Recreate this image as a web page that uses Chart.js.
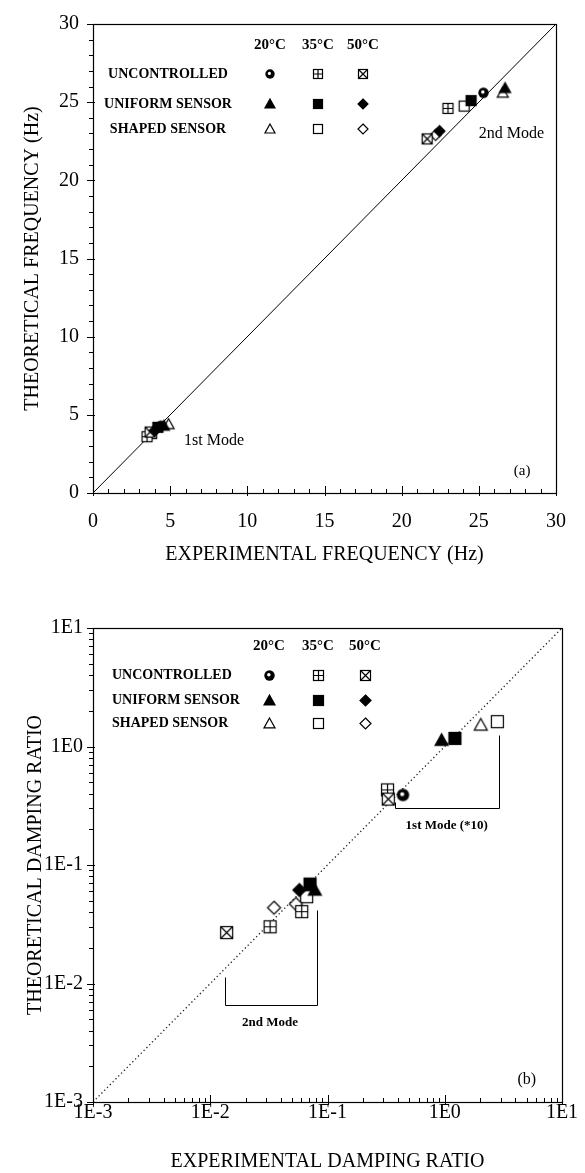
<!DOCTYPE html>
<html><head><meta charset="utf-8">
<script src="https://cdn.jsdelivr.net/npm/chart.js@4.4.0/dist/chart.umd.min.js"></script>
<style>
html,body{margin:0;padding:0;background:#fff;width:585px;height:1173px;overflow:hidden}
#c1{position:absolute;left:0;top:0}
#c2{position:absolute;left:0;top:585px}
</style></head><body>
<canvas id="c1" width="585" height="585" style="width:585px;height:585px"></canvas>
<canvas id="c2" width="585" height="588" style="width:585px;height:588px"></canvas>
<script>
// ---------------- DATA ----------------
const conditions = ['UNCONTROLLED', 'UNIFORM SENSOR', 'SHAPED SENSOR'];
const temperatures = ['20°C', '35°C', '50°C'];

// (a) frequencies, Hz : [1st mode, 2nd mode]
const freqTicks = [0, 5, 10, 15, 20, 25, 30];
const freqIdentity = [0, 30];
const unc20FreqX = [4.4, 25.3],  unc20FreqY = [4.3, 25.6];
const unc35FreqX = [3.5, 23.0],  unc35FreqY = [3.6, 24.6];
const unc50FreqX = [3.7, 21.65], unc50FreqY = [3.9, 22.65];
const uni20FreqX = [4.6, 26.7],  uni20FreqY = [4.3, 25.9];
const uni35FreqX = [4.2, 24.5],  uni35FreqY = [4.2, 25.1];
const uni50FreqX = [4.0, 22.45], uni50FreqY = [4.0, 23.15];
const sha20FreqX = [4.9, 26.55], sha20FreqY = [4.4, 25.6];
const sha35FreqX = [3.8, 24.05], sha35FreqY = [3.8, 24.75];
const sha50FreqX = [4.1, 22.2],  sha50FreqY = [4.1, 22.9];

// (b) damping ratios (1st mode values x10)
const dampTicks = [0.001, 0.01, 0.1, 1, 10];
const dampTickLabels = ['1E-3', '1E-2', '1E-1', '1E0', '1E1'];
const dampIdentity = [0.001, 10];
const unc20DampX = [0.44],                 unc20DampY = [0.39];
const unc35DampX = [0.325, 0.0324, 0.0603], unc35DampY = [0.43, 0.0301, 0.0404];
const unc50DampX = [0.33, 0.0138],         unc50DampY = [0.36, 0.0269];
const uni20DampX = [0.94, 0.078],          uni20DampY = [1.13, 0.0615];
const uni35DampX = [1.22, 0.071],          uni35DampY = [1.17, 0.069];
const uni50DampX = [0.0575],               uni50DampY = [0.0615];
const sha20DampX = [2.03],                 sha20DampY = [1.52];
const sha35DampX = [2.81, 0.0664],         sha35DampY = [1.62, 0.054];
const sha50DampX = [0.035, 0.0538],        sha50DampY = [0.0436, 0.0469];

// ---------------- STYLE ----------------
const SERIF = '"Liberation Serif", "Times New Roman", serif';
const kinds = ['ring', 'boxPlus', 'boxCross', 'triFill', 'sqFill', 'diaFill', 'triOpen', 'sqOpen', 'diaOpen'];

function marker(kind, size) {
  const s = size + 4;
  const c = document.createElement('canvas');
  c.width = s; c.height = s;
  const g = c.getContext('2d');
  const m = s / 2, h = size / 2;
  g.strokeStyle = '#000'; g.fillStyle = '#000'; g.lineWidth = 1.2; g.lineJoin = 'miter';
  const bx = 2.5, bw = size - 1;
  switch (kind) {
    case 'ring':
      g.beginPath(); g.arc(m, m, h - 0.3, 0, Math.PI * 2); g.fill();
      g.fillStyle = '#fff'; g.beginPath(); g.arc(m - h * 0.12, m - h * 0.12, h * 0.32, 0, Math.PI * 2); g.fill();
      break;
    case 'boxPlus':
      g.fillStyle = '#fff'; g.fillRect(bx, bx, bw, bw); g.strokeRect(bx, bx, bw, bw);
      g.beginPath(); g.moveTo(m, bx); g.lineTo(m, bx + bw); g.moveTo(bx, m); g.lineTo(bx + bw, m); g.stroke();
      break;
    case 'boxCross':
      g.fillStyle = '#fff'; g.fillRect(bx, bx, bw, bw); g.strokeRect(bx, bx, bw, bw);
      g.beginPath(); g.moveTo(bx, bx); g.lineTo(bx + bw, bx + bw); g.moveTo(bx + bw, bx); g.lineTo(bx, bx + bw); g.stroke();
      break;
    case 'triFill': case 'triOpen':
      g.beginPath(); g.moveTo(m, m - h); g.lineTo(m + h, m + h * 0.8); g.lineTo(m - h, m + h * 0.8); g.closePath();
      if (kind === 'triFill') g.fill(); else { g.fillStyle = '#fff'; g.fill(); }
      g.stroke();
      break;
    case 'sqFill': case 'sqOpen':
      if (kind === 'sqFill') g.fillRect(bx, bx, bw, bw); else { g.fillStyle = '#fff'; g.fillRect(bx, bx, bw, bw); }
      g.strokeRect(bx, bx, bw, bw);
      break;
    case 'diaFill': case 'diaOpen':
      g.beginPath(); g.moveTo(m, m - h); g.lineTo(m + h, m); g.lineTo(m, m + h); g.lineTo(m - h, m); g.closePath();
      if (kind === 'diaFill') g.fill(); else { g.fillStyle = '#fff'; g.fill(); }
      g.stroke();
      break;
  }
  return c;
}

const pts = (xs, ys) => xs.map((x, i) => ({ x, y: ys[i] }));

const freqXY = [[unc20FreqX, unc20FreqY], [unc35FreqX, unc35FreqY], [unc50FreqX, unc50FreqY],
                [uni20FreqX, uni20FreqY], [uni35FreqX, uni35FreqY], [uni50FreqX, uni50FreqY],
                [sha20FreqX, sha20FreqY], [sha35FreqX, sha35FreqY], [sha50FreqX, sha50FreqY]];
const dampXY = [[unc20DampX, unc20DampY], [unc35DampX, unc35DampY], [unc50DampX, unc50DampY],
                [uni20DampX, uni20DampY], [uni35DampX, uni35DampY], [uni50DampX, uni50DampY],
                [sha20DampX, sha20DampY], [sha35DampX, sha35DampY], [sha50DampX, sha50DampY]];
// draw order: shaped at bottom, uniform on top
const drawOrder = [5, 5, 5, 1, 1, 1, 9, 9, 9];

function markerDatasets(xy, size) {
  return xy.map((s, i) => ({
    label: conditions[Math.floor(i / 3)] + ' ' + temperatures[i % 3],
    data: pts(s[0], s[1]),
    pointStyle: marker(kinds[i], size),
    pointRadius: size / 2, showLine: false, order: drawOrder[i] + (8 - i) * 0.01, clip: false
  }));
}

function legendPlugin(cfg) {
  return {
    id: 'gridLegend' + cfg.id,
    afterDraw(chart) {
      const ctx = chart.ctx;
      ctx.save();
      ctx.fillStyle = '#000';
      ctx.textBaseline = 'middle';
      ctx.font = 'bold 15px ' + SERIF;
      ctx.textAlign = 'center';
      temperatures.forEach((t, j) => ctx.fillText(t, cfg.colX[j], cfg.headY));
      ctx.font = 'bold 14px ' + SERIF;
      ctx.textAlign = cfg.textAlign;
      conditions.forEach((c, i) => {
        ctx.fillText(c, cfg.textX, cfg.rowY[i]);
        for (let j = 0; j < 3; j++) {
          const img = marker(kinds[i * 3 + j], cfg.size);
          ctx.drawImage(img, Math.round(cfg.colX[j] - img.width / 2), Math.round(cfg.rowY[i] - img.height / 2));
        }
      });
      ctx.restore();
    }
  };
}

function frameTicksPlugin(cfg) {
  return {
    id: 'frameTicks' + cfg.id,
    afterDraw(chart) {
      const { ctx, chartArea: a } = chart;
      const xs = chart.scales.x, ys = chart.scales.y;
      ctx.save();
      ctx.strokeStyle = '#000';
      ctx.lineWidth = 1.2;
      ctx.strokeRect(Math.round(a.left) + 0.5, Math.round(a.top) + 0.5, Math.round(a.right - a.left), Math.round(a.bottom - a.top));
      ctx.lineWidth = 1;
      ctx.beginPath();
      cfg.xMajor.forEach(v => { const p = Math.round(xs.getPixelForValue(v)) + 0.5; ctx.moveTo(p, a.bottom + 3); ctx.lineTo(p, a.bottom - 7); });
      cfg.xMinor.forEach(v => { const p = Math.round(xs.getPixelForValue(v)) + 0.5; ctx.moveTo(p, a.bottom); ctx.lineTo(p, a.bottom - 4); });
      cfg.yMajor.forEach(v => { const p = Math.round(ys.getPixelForValue(v)) + 0.5; ctx.moveTo(a.left - 6, p); ctx.lineTo(a.left + 2, p); });
      cfg.yMinor.forEach(v => { const p = Math.round(ys.getPixelForValue(v)) + 0.5; ctx.moveTo(a.left - 4, p); ctx.lineTo(a.left, p); });
      ctx.stroke();
      ctx.restore();
    }
  };
}

const intMinor = [];
for (let v = 0; v <= 30; v++) if (v % 5) intMinor.push(v);
const logMinor = [];
for (let e = -3; e < 1; e++) for (let k = 2; k <= 9; k++) logMinor.push(k * Math.pow(10, e));

const common = {
  responsive: false, animation: false, devicePixelRatio: 1, events: [],
  plugins: { legend: { display: false }, tooltip: { enabled: false } }
};

// ---------------- CHART (a) ----------------
const annotTop = {
  id: 'annotTop',
  afterDraw(chart) {
    const { ctx } = chart; const xs = chart.scales.x, ys = chart.scales.y;
    ctx.save(); ctx.fillStyle = '#000'; ctx.textBaseline = 'middle'; ctx.textAlign = 'left';
    ctx.font = '16px ' + SERIF;
    ctx.fillText('1st Mode', xs.getPixelForValue(5.9), ys.getPixelForValue(3.35));
    ctx.fillText('2nd Mode', xs.getPixelForValue(25.0), ys.getPixelForValue(23.0));
    ctx.font = '15px ' + SERIF; ctx.textAlign = 'center';
    ctx.fillText('(a)', xs.getPixelForValue(27.8), ys.getPixelForValue(1.4));
    ctx.restore();
  }
};

new Chart(document.getElementById('c1'), {
  type: 'scatter',
  data: {
    datasets: [
      ...markerDatasets(freqXY, 11),
      { label: 'identity', data: pts(freqIdentity, freqIdentity), showLine: true, borderColor: '#000', borderWidth: 1, pointRadius: 0, order: 100 }
    ]
  },
  options: {
    ...common,
    layout: { padding: { top: 19, right: 23, left: 0, bottom: 0 } },
    scales: {
      x: {
        type: 'linear', min: 0, max: 30,
        grid: { display: false, drawTicks: false }, border: { display: false },
        afterBuildTicks: s => { s.ticks = freqTicks.map(v => ({ value: v })); },
        ticks: { autoSkip: false, maxRotation: 0, color: '#000', padding: 19, font: { family: SERIF, size: 20, lineHeight: 1 } },
        title: { display: true, text: 'EXPERIMENTAL FREQUENCY (Hz)', color: '#000', font: { family: SERIF, size: 20, lineHeight: 1 }, padding: { top: 0, bottom: 20 } },
        afterFit: s => { s.height = 92; }
      },
      y: {
        type: 'linear', min: 0, max: 30,
        grid: { display: false, drawTicks: false }, border: { display: false },
        afterBuildTicks: s => { s.ticks = freqTicks.map(v => ({ value: v })); },
        ticks: { autoSkip: false, color: '#000', padding: 14, font: { family: SERIF, size: 20, lineHeight: 1 } },
        title: { display: true, text: 'THEORETICAL FREQUENCY (Hz)', color: '#000', font: { family: SERIF, size: 20, lineHeight: 1 }, padding: { top: 23, bottom: 0 } },
        afterFit: s => { s.width = 93; }
      }
    }
  },
  plugins: [
    frameTicksPlugin({ id: 'a', xMajor: freqTicks, xMinor: intMinor, yMajor: freqTicks, yMinor: intMinor }),
    legendPlugin({ id: 'a', colX: [270, 318, 363], headY: 45, rowY: [74, 104, 129], textX: 168, textAlign: 'center', size: 10 }),
    annotTop
  ]
});

// ---------------- CHART (b) ----------------
const annotBottom = {
  id: 'annotBottom',
  afterDraw(chart) {
    const { ctx } = chart; const xs = chart.scales.x, ys = chart.scales.y;
    const P = (x, y) => [Math.round(xs.getPixelForValue(x)) + 0.5, Math.round(ys.getPixelForValue(y)) + 0.5];
    ctx.save(); ctx.strokeStyle = '#000'; ctx.lineWidth = 1;
    const bracket = (x0, yl, yb, x1, yr) => {
      const a = P(x0, yl), b = P(x0, yb), c = P(x1, yb), d = P(x1, yr);
      ctx.beginPath(); ctx.moveTo(a[0], a[1]); ctx.lineTo(b[0], b[1]); ctx.lineTo(c[0], c[1]); ctx.lineTo(d[0], d[1]); ctx.stroke();
    };
    bracket(0.01337, 0.01135, 0.00659, 0.0813, 0.0417);
    bracket(0.375, 0.34, 0.303, 2.90, 1.25);
    ctx.fillStyle = '#000'; ctx.textBaseline = 'middle'; ctx.textAlign = 'center';
    ctx.font = 'bold 13px ' + SERIF;
    ctx.fillText('2nd Mode', xs.getPixelForValue(0.0324), ys.getPixelForValue(0.00465));
    ctx.fillText('1st Mode (*10)', xs.getPixelForValue(1.04), ys.getPixelForValue(0.213));
    ctx.font = '16px ' + SERIF;
    ctx.fillText('(b)', xs.getPixelForValue(5.0), ys.getPixelForValue(0.00154));
    ctx.restore();
  }
};

new Chart(document.getElementById('c2'), {
  type: 'scatter',
  data: {
    datasets: [
      ...markerDatasets(dampXY, 13),
      { label: 'identity', data: pts(dampIdentity, dampIdentity), showLine: true, borderColor: '#222', borderWidth: 1.3, borderDash: [1.3, 2.7], pointRadius: 0, order: 100 }
    ]
  },
  options: {
    ...common,
    layout: { padding: { top: 43, right: 23, left: 0, bottom: 0 } },
    scales: {
      x: {
        type: 'logarithmic', min: 0.001, max: 10,
        grid: { display: false, drawTicks: false }, border: { display: false },
        afterBuildTicks: s => { s.ticks = dampTicks.map(v => ({ value: v })); },
        ticks: { autoSkip: false, maxRotation: 0, color: '#000', padding: 1, font: { family: SERIF, size: 20, lineHeight: 1 },
                 callback: (v, i) => dampTickLabels[i] },
        title: { display: true, text: 'EXPERIMENTAL DAMPING RATIO', color: '#000', font: { family: SERIF, size: 20, lineHeight: 1 }, padding: { top: 0, bottom: 1 } },
        afterFit: s => { s.height = 71; }
      },
      y: {
        type: 'logarithmic', min: 0.001, max: 10,
        grid: { display: false, drawTicks: false }, border: { display: false },
        afterBuildTicks: s => { s.ticks = dampTicks.map(v => ({ value: v })); },
        ticks: { autoSkip: false, color: '#000', padding: 10, font: { family: SERIF, size: 20, lineHeight: 1 },
                 callback: (v, i) => dampTickLabels[i] },
        title: { display: true, text: 'THEORETICAL DAMPING RATIO', color: '#000', font: { family: SERIF, size: 20, lineHeight: 1 }, padding: { top: 26, bottom: 0 } },
        afterFit: s => { s.width = 93; }
      }
    }
  },
  plugins: [
    frameTicksPlugin({ id: 'b', xMajor: dampTicks, xMinor: logMinor, yMajor: dampTicks, yMinor: logMinor }),
    legendPlugin({ id: 'b', colX: [269, 318, 365], headY: 61, rowY: [90, 115, 138], textX: 112, textAlign: 'left', size: 11 }),
    annotBottom
  ]
});
</script>
</body></html>
